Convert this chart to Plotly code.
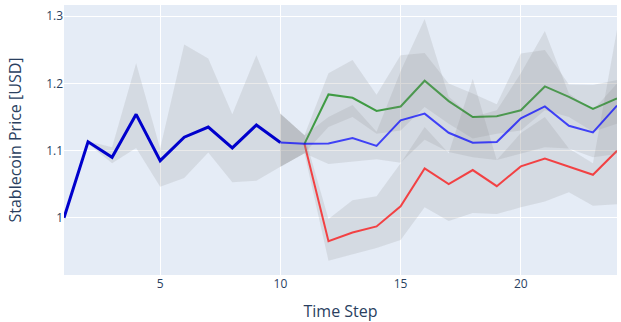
import plotly.graph_objects as go

# ---- data ----
hist_t = [1, 2, 3, 4, 5, 6, 7, 8, 9, 10]
hist_mean = [1.0, 1.113, 1.090, 1.154, 1.085, 1.120, 1.135, 1.104, 1.138, 1.112]
hist_lo = [1.0, 1.110, 1.081, 1.104, 1.046, 1.059, 1.097, 1.053, 1.055, 1.076]
hist_hi = [1.0, 1.114, 1.105, 1.230, 1.103, 1.258, 1.237, 1.154, 1.242, 1.155]

scen_t = [10, 11, 12, 13, 14, 15, 16, 17, 18, 19, 20, 21, 22, 23, 24]

red_mean = [1.112, 1.110, 0.965, 0.978, 0.987, 1.017, 1.0735, 1.050, 1.071, 1.047, 1.0765, 1.088, 1.076, 1.064, 1.0997]
red_lo = [1.076, 1.096, 0.936, 0.946, 0.955, 0.967, 1.0155, 0.995, 1.007, 1.0055, 1.0155, 1.024, 1.038, 1.018, 1.020]
red_hi = [1.155, 1.123, 0.998, 1.026, 1.032, 1.081, 1.135, 1.096, 1.207, 1.086, 1.126, 1.150, 1.103, 1.081, 1.280]

green_mean = [1.112, 1.110, 1.1836, 1.1786, 1.159, 1.1657, 1.204, 1.1737, 1.150, 1.151, 1.160, 1.1955, 1.180, 1.162, 1.1777]
green_lo = [1.076, 1.096, 1.135, 1.150, 1.125, 1.130, 1.165, 1.140, 1.118, 1.125, 1.130, 1.160, 1.150, 1.128, 1.140]
green_hi = [1.155, 1.123, 1.215, 1.235, 1.183, 1.242, 1.2455, 1.200, 1.185, 1.169, 1.2446, 1.2496, 1.1985, 1.1975, 1.205]

blue_mean = [1.112, 1.110, 1.1107, 1.1186, 1.107, 1.145, 1.155, 1.1265, 1.1116, 1.1127, 1.148, 1.1657, 1.137, 1.127, 1.167]
blue_lo = [1.076, 1.096, 1.080, 1.083, 1.087, 1.082, 1.116, 1.098, 1.090, 1.086, 1.095, 1.105, 1.103, 1.090, 1.095]
blue_hi = [1.155, 1.123, 1.150, 1.168, 1.128, 1.218, 1.296, 1.180, 1.150, 1.160, 1.215, 1.278, 1.185, 1.160, 1.200]

BAND = "rgba(140,140,140,0.18)"

fig = go.Figure()


def add_band(t, lo, hi):
    fig.add_trace(go.Scatter(x=t, y=lo, mode="lines", line=dict(width=0),
                             showlegend=False, hoverinfo="skip"))
    fig.add_trace(go.Scatter(x=t, y=hi, mode="lines", line=dict(width=0),
                             fill="tonexty", fillcolor=BAND,
                             showlegend=False, hoverinfo="skip"))


# history
add_band(hist_t, hist_lo, hist_hi)
fig.add_trace(go.Scatter(x=hist_t, y=hist_mean, mode="lines",
                         line=dict(color="#0000cc", width=3), showlegend=False))

# scenarios
add_band(scen_t, red_lo, red_hi)
fig.add_trace(go.Scatter(x=scen_t[1:], y=red_mean[1:], mode="lines",
                         line=dict(color="rgba(255,0,0,0.7)", width=2), showlegend=False))
add_band(scen_t, green_lo, green_hi)
fig.add_trace(go.Scatter(x=scen_t[1:], y=green_mean[1:], mode="lines",
                         line=dict(color="rgba(0,128,0,0.7)", width=2), showlegend=False))
add_band(scen_t, blue_lo, blue_hi)
fig.add_trace(go.Scatter(x=scen_t, y=blue_mean, mode="lines",
                         line=dict(color="rgba(0,0,255,0.7)", width=2), showlegend=False))

fig.update_layout(
    width=621, height=322,
    margin=dict(l=64, r=4, t=5, b=47),
    template="plotly",
    showlegend=False,
    font=dict(family="Open Sans, Verdana, Arial, sans-serif"),
)
fig.update_xaxes(title_text="Time Step", range=[1, 24], zeroline=False,
                 automargin=False, title_font=dict(size=16))
fig.update_yaxes(title_text="Stablecoin Price [USD]", range=[0.9147, 1.3168],
                 zeroline=False, automargin=False, title_font=dict(size=16),
                 title_standoff=20,
                 tickvals=[1.0, 1.1, 1.2, 1.3], ticktext=["1", "1.1", "1.2", "1.3"])

fig.write_html("out.html",
               config={"displayModeBar": False},
               post_script="document.body.style.margin='0';document.body.style.overflow='hidden';")
